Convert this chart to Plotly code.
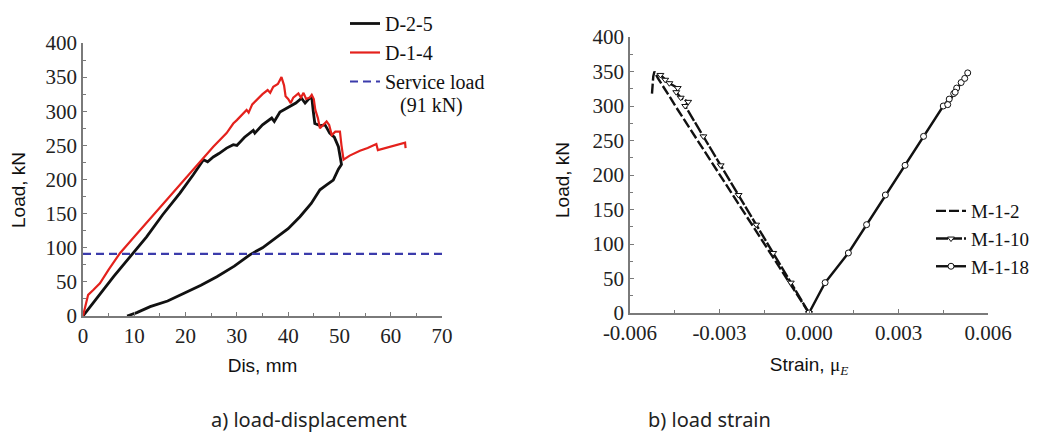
import plotly.graph_objects as go

# ---------------- data: (a) load-displacement ----------------
d25_x = [0, 3, 6, 9.2, 12.4, 15.5, 18.9, 21.5, 23.5, 24.3, 25.4, 26.5, 28, 29.3, 30, 31.5, 33.2, 33.5,
         35, 36.8, 37.3, 38.4, 40.4, 41.5, 42.6, 43.3, 44.0, 44.6, 44.9, 45.2, 46.2, 47.2, 48.1,
         49.0, 49.8, 50.1, 50.3, 50.4, 49.8, 48.8, 47.5, 46.2, 44.5, 42.3, 40, 37.1, 35, 32.6,
         29.5, 26.1, 23, 19.6, 16.5, 13.1, 10.5, 8.6]
d25_y = [0, 29, 58, 87, 116, 148, 180, 207, 229, 226, 233, 238, 246, 251, 250, 262, 272, 268,
         280, 290, 285, 299, 307, 312, 319, 312, 318, 321, 300, 282, 279, 280, 268,
         262, 248, 233, 225, 222, 215, 199, 192, 185, 165, 145.5, 128, 111, 100, 90,
         73, 57.6, 45, 33, 22, 13.7, 5, 0]

d14_x = [0, 0.5, 1.0, 2, 3.3, 5, 7.2, 10, 13, 16, 18.9, 22, 25.4, 28, 29.3, 30, 31.9, 32.3, 33,
         35, 36, 36.5, 37.1, 38, 38.7, 39.2, 39.5, 40, 40.5, 41, 42, 42.5, 43, 43.5, 44.2, 44.6,
         45, 45.3, 45.8, 46.2, 46.8, 47.5, 48, 48.5, 49.2, 50.1, 50.4, 50.8, 52, 54, 55.5,
         57.2, 57.5, 59, 60.5, 62, 62.8, 62.9]
d14_y = [0, 15, 31, 38, 48, 68, 92, 116, 142, 168, 192, 220, 248, 268, 282, 287, 302, 298, 310,
         325, 331, 327, 336, 340, 350, 338, 322, 318, 312, 320, 326, 320, 327, 318, 320, 324,
         318, 302, 290, 275, 280, 285, 280, 265, 270, 270, 250, 229, 235, 242, 246,
         252, 243, 246, 250, 252, 254, 246]

service_x = [0, 70]
service_y = [91, 91]
service_note = "(91 kN)"

# ---------------- data: (b) load-strain ----------------
m12_x = [0, -0.00066, -0.00130, -0.00192, -0.00256, -0.00320, -0.00383, -0.00448, -0.00465,
         -0.00480, -0.00494, -0.00506, -0.00518, -0.00522, -0.00527]
m12_y = [0, 44, 87, 128, 171, 214, 256, 300, 312, 322, 332, 340, 350, 343, 314]

m110_x = [0, -0.00061, -0.00120, -0.00177, -0.00236, -0.00296, -0.00354, -0.00415, -0.00405,
          -0.00430, -0.00445, -0.00440, -0.00468, -0.00482, -0.00498]
m110_y = [0, 44, 87, 128, 171, 214, 256, 300, 306, 312, 320, 326, 333, 338, 345]

m118_x = [0, 0.00054, 0.00132, 0.00193, 0.00256, 0.00322, 0.00384, 0.00450, 0.00470, 0.00465,
          0.00485, 0.00495, 0.00490, 0.00510, 0.00522, 0.00532]
m118_y = [0, 44, 87, 128, 171, 214, 256, 300, 310, 302, 318, 326, 320, 334, 340, 348]

# tick labels
left_xticks = [0, 10, 20, 30, 40, 50, 60, 70]
load_ticks = [0, 50, 100, 150, 200, 250, 300, 350, 400]
strain_tickvals = [-0.006, -0.003, 0.0, 0.003, 0.006]
strain_ticktext = ["-0.006", "-0.003", "0.000", "0.003", "0.006"]

SERIF = "Liberation Serif, Times New Roman, serif"
SANS = "Liberation Sans, Arial, sans-serif"
CAP = "Noto Sans, Lato, sans-serif"
AX = "#7a7a7a"

fig = go.Figure()

fig.add_trace(go.Scatter(x=d25_x, y=d25_y, mode="lines", name="D-2-5",
                         line=dict(color="#111111", width=2.8), xaxis="x", yaxis="y",
                         legend="legend"))
fig.add_trace(go.Scatter(x=d14_x, y=d14_y, mode="lines", name="D-1-4",
                         line=dict(color="#e4211c", width=2.2), xaxis="x", yaxis="y",
                         legend="legend"))
fig.add_trace(go.Scatter(x=service_x, y=service_y, mode="lines", name="Service load",
                         line=dict(color="#3b3bab", width=2.2, dash="8px,5px"),
                         xaxis="x", yaxis="y", legend="legend"))

fig.add_trace(go.Scatter(x=m12_x, y=m12_y, mode="lines", name="M-1-2",
                         line=dict(color="#111111", width=2.4, dash="10px,3px"),
                         xaxis="x2", yaxis="y2", legend="legend2"))
fig.add_trace(go.Scatter(x=m110_x, y=m110_y, mode="lines+markers", name="M-1-10",
                         line=dict(color="#111111", width=2.4, dash="12px,2px"),
                         marker=dict(symbol="triangle-down", size=6, color="white",
                                     line=dict(color="#111111", width=1)),
                         xaxis="x2", yaxis="y2", legend="legend2"))
fig.add_trace(go.Scatter(x=m118_x, y=m118_y, mode="lines+markers", name="M-1-18",
                         line=dict(color="#111111", width=2.4),
                         marker=dict(symbol="circle", size=6, color="white",
                                     line=dict(color="#111111", width=1)),
                         xaxis="x2", yaxis="y2", legend="legend2"))

axis_common = dict(showgrid=False, zeroline=False, showline=True, linecolor=AX, linewidth=1.5,
                   ticks="inside", ticklen=4, tickcolor=AX, tickwidth=1.2, automargin=False,
                   tickfont=dict(family=SERIF, size=21, color="#222222"), mirror=False)

fig.update_layout(
    width=1038, height=435, margin=dict(l=0, r=0, t=0, b=0, autoexpand=False),
    paper_bgcolor="white", plot_bgcolor="white",
    xaxis=dict(domain=[83/1038, 442/1038], range=[0, 70], anchor="y",
               tickvals=left_xticks,
               minor=dict(ticks="inside", dtick=5, ticklen=3, tickcolor=AX),
               title=dict(text="Dis, mm", font=dict(family=SANS, size=19, color="#111111"),
                          standoff=12),
               **axis_common),
    yaxis=dict(domain=[(435-316)/435, (435-43)/435], range=[0, 400], anchor="x",
               tickvals=load_ticks,
               minor=dict(ticks="inside", dtick=25, ticklen=3, tickcolor=AX),
               **axis_common),
    xaxis2=dict(domain=[630/1038, 988/1038], range=[-0.006, 0.006], anchor="y2",
                tickvals=strain_tickvals, ticktext=strain_ticktext,
                minor=dict(ticks="inside", dtick=0.0015, ticklen=3, tickcolor=AX),
                title=dict(text="Strain, <span style='font-family:Liberation Serif'>\u03bc<sub><i>E</i></sub></span>",
                           font=dict(family=SANS, size=19, color="#111111"), standoff=14),
                **axis_common),
    yaxis2=dict(domain=[(435-313)/435, (435-37)/435], range=[0, 400], anchor="x2",
                tickvals=load_ticks,
                minor=dict(ticks="inside", dtick=25, ticklen=3, tickcolor=AX),
                **axis_common),
    legend=dict(x=345/1038, y=(435-4)/435, xanchor="left", yanchor="top",
                bgcolor="rgba(0,0,0,0)", font=dict(family=SERIF, size=20, color="#111111"),
                tracegroupgap=0, itemwidth=30),
    legend2=dict(x=931/1038, y=(435-192)/435, xanchor="left", yanchor="top",
                 bgcolor="rgba(0,0,0,0)", font=dict(family=SERIF, size=19, color="#111111"),
                 tracegroupgap=0, itemwidth=30),
    annotations=[
        dict(text=service_note, x=431/1038, y=(435-106)/435, xref="paper", yref="paper",
             xanchor="center", yanchor="middle", showarrow=False,
             font=dict(family=SERIF, size=20, color="#111111")),
        dict(text="Load, kN", x=18/1038, y=(435-190)/435, xref="paper", yref="paper",
             xanchor="center", yanchor="middle",
             textangle=-90, showarrow=False, font=dict(family=SANS, size=19, color="#111111")),
        dict(text="Load, kN", x=562/1038, y=(435-180)/435, xref="paper", yref="paper",
             xanchor="center", yanchor="middle",
             textangle=-90, showarrow=False, font=dict(family=SANS, size=19, color="#111111")),
        dict(text="a) load-displacement", x=309/1038, y=0.0, xref="paper", yref="paper",
             xanchor="center", yanchor="bottom",
             showarrow=False, font=dict(family=CAP, size=20, color="#222222")),
        dict(text="b) load strain", x=709/1038, y=0.0, xref="paper", yref="paper",
             xanchor="center", yanchor="bottom",
             showarrow=False, font=dict(family=CAP, size=20, color="#222222")),
    ],
)

fig.write_html("out.html")
